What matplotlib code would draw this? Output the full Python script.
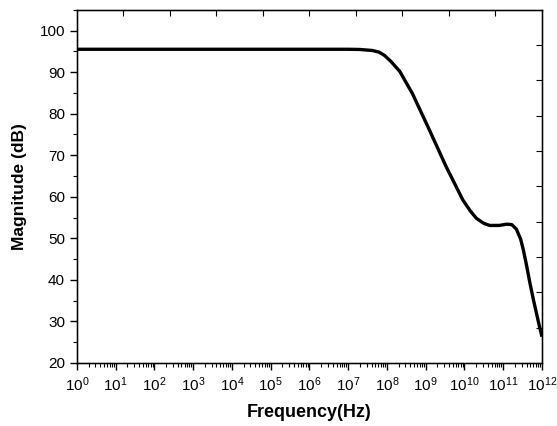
import numpy as np
import matplotlib.pyplot as plt
from matplotlib.ticker import LogLocator, MultipleLocator, NullFormatter

plt.rcParams['font.family'] = ['Liberation Sans', 'DejaVu Sans']
plt.rcParams['mathtext.fontset'] = 'custom'
plt.rcParams['mathtext.rm'] = 'Liberation Sans'
plt.rcParams['mathtext.default'] = 'regular'

# frequency (Hz) and magnitude (dB)
freq = [1e0, 1e1, 1e2, 1e3, 1e4, 1e5, 1e6, 1e7, 10**7.3, 10**7.63, 10**7.8,
        10**7.94, 10**8.1, 10**8.33, 10**8.66, 10**9.1, 10**9.53, 10**9.96,
        10**10.15, 10**10.31, 10**10.5, 10**10.65, 10**10.9, 10**11.09,
        10**11.22, 10**11.34, 10**11.45, 10**11.52, 10**11.6, 10**11.69,
        10**11.78, 10**11.86, 10**11.93, 10**11.99]
mag = [95.5, 95.5, 95.5, 95.5, 95.5, 95.5, 95.5, 95.5, 95.45, 95.2, 94.8,
       94.0, 92.6, 90.2, 84.8, 76.0, 67.2, 59.2,
       56.6, 54.8, 53.6, 53.1, 53.1, 53.4,
       53.3, 52.2, 49.8, 47.2, 43.6, 39.2,
       35.2, 31.9, 29.0, 26.7]

fig = plt.figure(figsize=(5.57, 4.26), dpi=100)
ax = fig.add_axes([0.138, 0.148, 0.835, 0.829])
ax.plot(freq, mag, color='black', linewidth=2.4)

ax.set_xscale('log')
ax.set_xlim(1, 1e12)
ax.set_ylim(20, 105)
ax.xaxis.set_major_locator(LogLocator(base=10, numticks=20))
ax.xaxis.set_minor_locator(LogLocator(base=10, subs=np.arange(2, 10), numticks=20))
ax.xaxis.set_minor_formatter(NullFormatter())
ax.yaxis.set_minor_locator(MultipleLocator(5))
ax.set_yticks([20, 30, 40, 50, 60, 70, 80, 90, 100])

ax.tick_params(which='major', direction='out', length=5, width=1, labelsize=11)
ax.tick_params(which='minor', direction='out', length=3, width=0.8)
ax.tick_params(axis='x', which='major', pad=4)

ax.set_xlabel('Frequency(Hz)', fontsize=13, fontweight='bold', labelpad=7)
ax.set_ylabel('Magnitude (dB)', fontsize=12.5, fontweight='bold', labelpad=9)

for s in ax.spines.values():
    s.set_linewidth(1)

# top and right axes have their own unlabeled ticks
top = ax.twiny()
top.set_xlim(0, 1)
top.set_xticks(np.arange(0.1, 1.0, 0.1))
top.tick_params(direction='in', length=4, labeltop=False)
right = ax.twinx()
right.set_ylim(0, 1)
right.set_yticks(np.arange(0.1, 1.0, 0.1))
right.tick_params(direction='in', length=4, labelright=False)

fig.savefig('out.png', dpi=100)
